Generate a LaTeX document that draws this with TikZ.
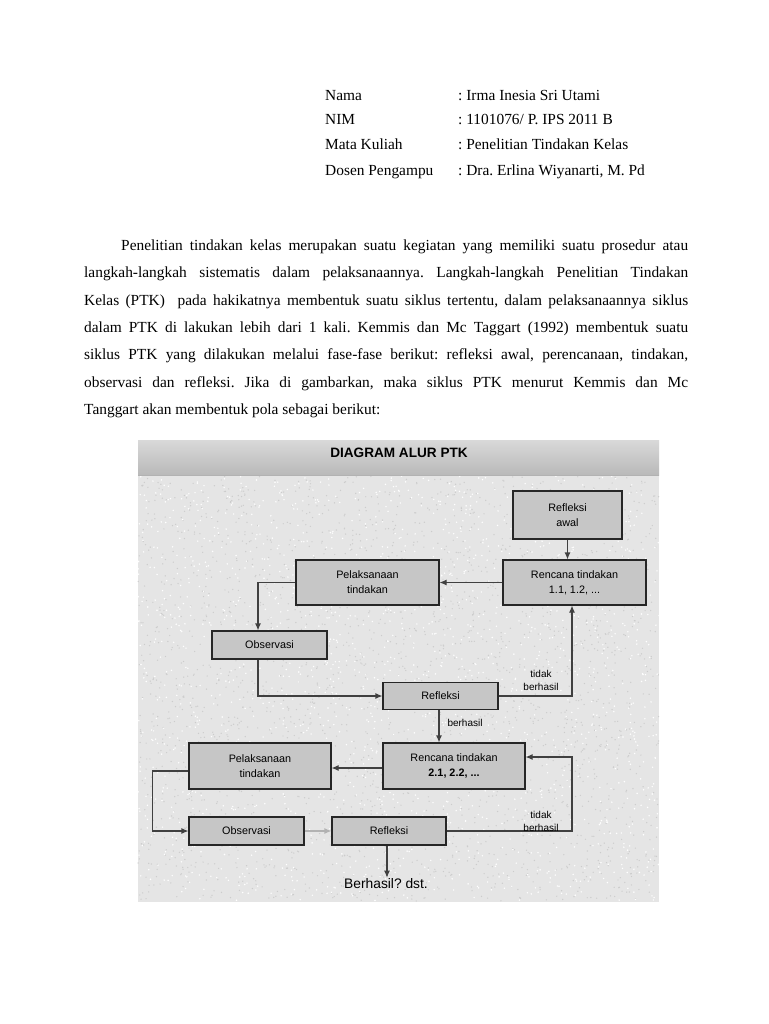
\documentclass[tikz,border=0pt]{standalone}
\usepackage{fontspec}
\setmainfont{Liberation Serif}
\newfontfamily\boxfont{Liberation Sans}
\usetikzlibrary{arrows.meta}
\frenchspacing

\begin{document}
\begin{tikzpicture}[x=1pt,y=-1pt,>={Latex[length=7pt,width=6pt]},
  box/.style={draw=black!85,line width=1.1pt,fill=gray!45,
    minimum width=#1,align=center,inner sep=0pt,
    font=\boxfont\fontsize{10.8}{15}\selectfont},
  box/.default=115pt,
  lbl/.style={align=center,font=\boxfont\fontsize{10}{13}\selectfont},
  line/.style={draw=black!75,line width=1.1pt},
  txt/.style={anchor=base west,inner sep=0pt,font=\fontsize{15.4}{18}\selectfont}]
  \useasboundingbox (0,0) rectangle (768,1024);
  \fill[white] (0,0) rectangle (768,1024);

  % data mahasiswa
  \foreach \y/\a/\b in {101/Nama/Irma Inesia Sri Utami,
      125/NIM/{1101076/ P. IPS 2011 B},
      150/Mata Kuliah/Penelitian Tindakan Kelas,
      176/Dosen Pengampu/{Dra. Erlina Wiyanarti, M. Pd}} {
    \node[txt] at (325,\y) {\a};
    \node[txt] at (458,\y) {: \b};
  }

  % paragraf
  \node[txt] (p1) at (121,250) {\makebox[567pt][s]{Penelitian tindakan kelas merupakan suatu kegiatan yang memiliki suatu prosedur atau}};
  \node[txt] (p2) at (84,277.5) {\makebox[604pt][s]{langkah-langkah sistematis dalam pelaksanaannya. Langkah-langkah Penelitian Tindakan}};
  \node[txt] (p3) at (84,305) {\makebox[604pt][s]{Kelas (PTK)\ \ pada hakikatnya membentuk suatu siklus tertentu, dalam pelaksanaannya siklus}};
  \node[txt] (p4) at (84,332) {\makebox[604pt][s]{dalam PTK di lakukan lebih dari 1 kali. Kemmis dan Mc Taggart (1992) membentuk suatu}};
  \node[txt] (p5) at (84,359.5) {\makebox[604pt][s]{siklus PTK yang dilakukan melalui fase-fase berikut: refleksi awal, perencanaan, tindakan,}};
  \node[txt] (p6) at (84,387) {\makebox[604pt][s]{observasi dan refleksi. Jika di gambarkan, maka siklus PTK menurut Kemmis dan Mc}};
  \node[txt] (p7) at (84,414) {Tanggart akan membentuk pola sebagai berikut:};

  % latar diagram
  \fill[gray!20] (138,440) rectangle (659,902);
  \pgfmathsetseed{11}
  \foreach \i in {1,...,2600} {
    \fill[gray!40] ({138+521*rnd},{476+425*rnd}) circle (0.7);
  }
  \foreach \i in {1,...,1800} {
    \fill[white] ({138+521*rnd},{476+425*rnd}) circle (0.8);
  }
  \shade[top color=gray!30,bottom color=gray!55] (138,440) rectangle (659,475);
  \draw[gray!60] (138,475) -- (659,475);
  \node[font=\boxfont\bfseries\fontsize{13.6}{15}\selectfont] (judul) at (399,453) {DIAGRAM ALUR PTK};

  % kotak
  \node[box=109pt,minimum height=48pt] (awal) at (567.5,515) {Refleksi\\awal};
  \node[box=143pt,minimum height=45pt] (renc1) at (574.5,582.5) {Rencana tindakan\\1.1, 1.2, ...};
  \node[box=143pt,minimum height=45pt] (pel1) at (367.5,582.5) {Pelaksanaan\\tindakan};
  \node[box,minimum height=28pt] (obs1) at (269.5,645) {Observasi};
  \node[box,minimum height=27pt] (ref1) at (440.5,696) {Refleksi};
  \node[box=142pt,minimum height=46pt] (renc2) at (454,766) {Rencana tindakan\\\textbf{2.1, 2.2, ...}};
  \node[box=142pt,minimum height=46pt] (pel2) at (260,766) {Pelaksanaan\\tindakan};
  \node[box,minimum height=28pt] (obs2) at (246.5,831) {Observasi};
  \node[box=114pt,minimum height=28pt] (ref2) at (389,831) {Refleksi};
  \node[font=\boxfont\fontsize{13.8}{15}\selectfont,inner sep=1pt] (dst) at (386,884) {Berhasil? dst.};

  % alur siklus 1
  \draw[line,->] (awal.south) -- (awal.south |- renc1.north);
  \draw[line,->] (renc1.west) -- (pel1.east);
  \draw[line,->] (pel1.west) -| ([xshift=-11.5pt]obs1.north);
  \draw[line,->] ([xshift=-11.5pt]obs1.south) |- (ref1.west);
  \draw[line,->] (ref1.east) -| ([xshift=-2.5pt]renc1.south);
  \node[lbl] (gagal1) at (541,680) {tidak\\berhasil};
  \draw[line,->] ([xshift=-1.5pt]ref1.south) -- ([xshift=-1.5pt]ref1.south |- renc2.north);
  \node[lbl,anchor=west] (hasil1) at (444,723) {berhasil};

  % alur siklus 2
  \coordinate (t2) at (572,757);
  \draw[line,->] ([yshift=-2pt]renc2.west) -- ([yshift=-2pt]pel2.east);
  \draw[line,->] ([yshift=-5pt]pel2.west) -- ++(-36,0) |- (obs2.west);
  \draw[line,draw=gray!60,->] (obs2.east) -- (ref2.west);
  \draw[line,->] (ref2.east) -| (t2) -- (renc2.east |- t2);
  \node[lbl] (gagal2) at (541,821) {tidak\\berhasil};
  \draw[line,->] ([xshift=-2pt]ref2.south) -- ([xshift=-2pt]ref2.south |- dst.north);
\end{tikzpicture}
\end{document}
